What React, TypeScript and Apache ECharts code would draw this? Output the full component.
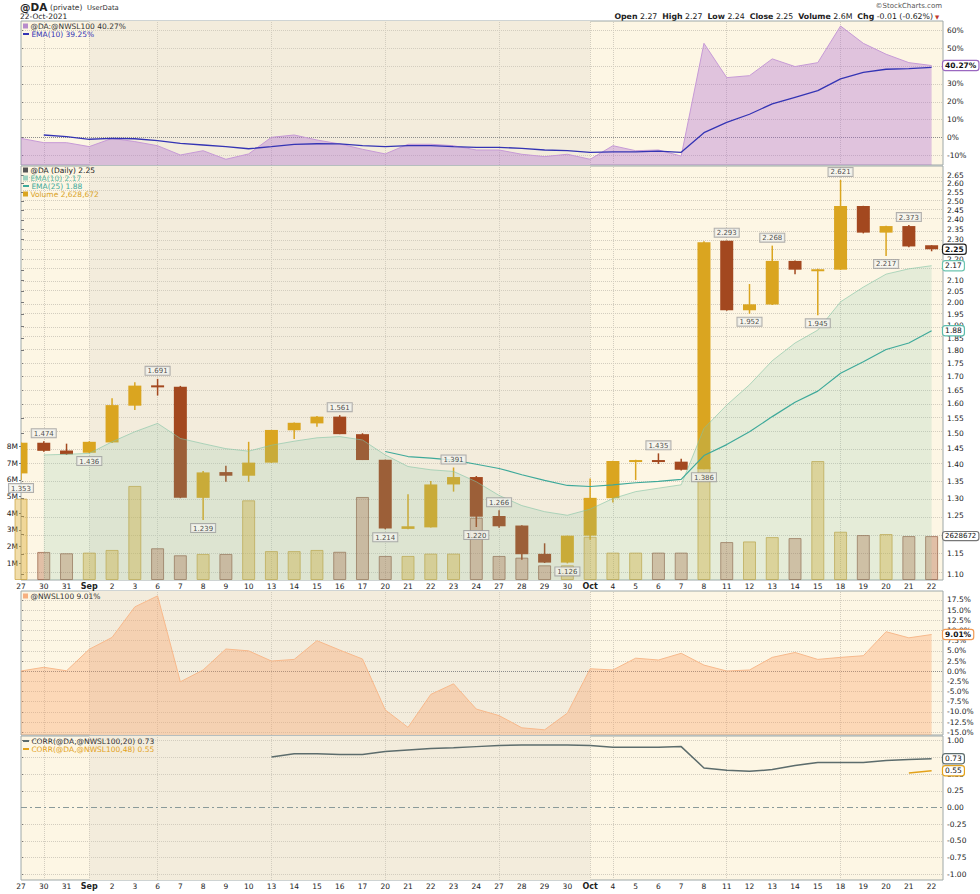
import React, { useEffect, useRef } from 'react';
import * as echarts from 'echarts';

const FONT = 'DejaVu Sans';

// trading days, 27 Aug – 22 Oct 2021
const xLabels = ['27', '30', '31', 'Sep', '2', '3', '6', '7', '8', '9', '10', '13', '14', '15', '16', '17', '20', '21', '22', '23', '24', '27', '28', '29', '30', 'Oct', '4', '5', '6', '7', '8', '11', '12', '13', '14', '15', '18', '19', '20', '21', '22'];

// @DA daily candles
const opens = [1.373, 1.469, 1.444, 1.437, 1.470, 1.594, 1.667, 1.662, 1.301, 1.377, 1.366, 1.406, 1.510, 1.533, 1.556, 1.497, 1.415, 1.215, 1.219, 1.340, 1.362, 1.250, 1.224, 1.150, 1.128, 1.197, 1.300, 1.411, 1.414, 1.409, 1.386, 2.293, 1.967, 1.992, 2.193, 2.151, 2.151, 2.475, 2.334, 2.368, 2.270];
const highs = [1.470, 1.474, 1.466, 1.474, 1.620, 1.678, 1.691, 1.665, 1.380, 1.396, 1.472, 1.511, 1.536, 1.558, 1.561, 1.500, 1.415, 1.311, 1.350, 1.391, 1.365, 1.266, 1.225, 1.177, 1.197, 1.358, 1.412, 1.415, 1.435, 1.418, 2.290, 2.293, 2.084, 2.268, 2.195, 2.155, 2.621, 2.476, 2.370, 2.373, 2.270];
const lows = [1.353, 1.440, 1.430, 1.436, 1.468, 1.579, 1.630, 1.300, 1.239, 1.348, 1.348, 1.405, 1.481, 1.522, 1.497, 1.414, 1.214, 1.214, 1.219, 1.319, 1.220, 1.218, 1.135, 1.127, 1.126, 1.186, 1.288, 1.353, 1.402, 1.382, 1.386, 1.965, 1.952, 1.990, 2.129, 1.945, 2.150, 2.330, 2.217, 2.260, 2.240];
const closes = [1.469, 1.443, 1.432, 1.472, 1.596, 1.666, 1.663, 1.301, 1.376, 1.366, 1.406, 1.511, 1.535, 1.556, 1.497, 1.414, 1.216, 1.222, 1.340, 1.362, 1.248, 1.222, 1.149, 1.128, 1.197, 1.301, 1.411, 1.414, 1.408, 1.384, 2.285, 1.967, 1.993, 2.193, 2.151, 2.153, 2.475, 2.334, 2.368, 2.264, 2.250];
const volumes = [4870000, 1680000, 1600000, 1640000, 1800000, 5630000, 1900000, 1480000, 1560000, 1560000, 4770000, 1730000, 1730000, 1800000, 1690000, 4970000, 1440000, 1440000, 1580000, 1580000, 3730000, 1440000, 1340000, 880000, 880000, 2590000, 1640000, 1640000, 1640000, 1640000, 6800000, 2270000, 2310000, 2570000, 2510000, 7120000, 2890000, 2690000, 2750000, 2630000, 2628672];
const ema10 = [null, 1.430, 1.432, 1.435, 1.472, 1.505, 1.533, 1.483, 1.466, 1.450, 1.442, 1.461, 1.474, 1.485, 1.489, 1.478, 1.430, 1.394, 1.384, 1.379, 1.348, 1.308, 1.279, 1.262, 1.252, 1.269, 1.299, 1.319, 1.329, 1.339, 1.516, 1.596, 1.669, 1.760, 1.830, 1.883, 2.004, 2.070, 2.130, 2.155, 2.170];
const ema25 = [null, null, null, null, null, null, null, null, null, null, null, null, null, null, null, null, 1.441, 1.425, 1.420, 1.414, 1.401, 1.388, 1.369, 1.352, 1.337, 1.334, 1.339, 1.345, 1.349, 1.355, 1.428, 1.463, 1.505, 1.556, 1.606, 1.646, 1.712, 1.756, 1.804, 1.830, 1.880];

// @DA:@NWSL100 ratio, % change
const ratioPct = [-0.5, -2.9, -2.9, -5.1, -0.5, -2.3, -4.6, -9.8, -7.4, -12.2, -9.2, 0.1, 1.4, -1.4, -3.6, -6.6, -9.2, -3.8, -3.8, -4.6, -7.0, -7.0, -9.4, -10.7, -9.4, -12.2, -4.6, -7.4, -7.0, -10.4, 52.7, 33.5, 34.6, 44.0, 39.7, 41.9, 62.4, 52.7, 46.6, 41.9, 40.27];
const ratioEma = [null, 1.4, 0.5, -1.0, -0.5, -0.7, -1.8, -3.3, -4.2, -5.1, -6.3, -5.1, -3.8, -3.5, -3.6, -4.6, -5.1, -4.6, -4.6, -5.1, -5.5, -5.5, -6.1, -7.0, -7.4, -8.3, -8.0, -8.0, -7.6, -8.3, 2.7, 8.5, 13.0, 18.8, 22.5, 26.2, 32.8, 36.5, 38.2, 38.5, 39.25];

// @NWSL100 % change
const nwslPct = [0.05, 0.96, 0.1, 5.4, 8.3, 15.8, 18.5, -2.6, 0.3, 5.45, 5.0, 2.5, 2.9, 7.5, 5.2, 3.0, -9.5, -13.8, -5.7, -3.1, -9.3, -10.9, -13.9, -14.4, -10.3, 0.6, 0.3, 3.2, 2.75, 4.4, 1.5, 0.05, 0.3, 3.4, 4.6, 2.9, 3.4, 3.8, 9.7, 8.2, 9.01];

// correlations
const corr20 = [null, null, null, null, null, null, null, null, null, null, null, 0.754, 0.803, 0.803, 0.793, 0.793, 0.837, 0.862, 0.882, 0.896, 0.911, 0.926, 0.936, 0.936, 0.936, 0.926, 0.902, 0.902, 0.902, 0.911, 0.592, 0.556, 0.541, 0.567, 0.630, 0.675, 0.675, 0.675, 0.704, 0.719, 0.73];
const corr48 = [null, null, null, null, null, null, null, null, null, null, null, null, null, null, null, null, null, null, null, null, null, null, null, null, null, null, null, null, null, null, null, null, null, null, null, null, null, null, null, 0.518, 0.55];

// high / low annotations
const markIdx = [0, 1, 3, 6, 8, 14, 16, 19, 20, 21, 24, 28, 30, 31, 32, 33, 35, 36, 38, 39];
const markSide = ['low', 'high', 'low', 'high', 'low', 'high', 'low', 'high', 'low', 'high', 'low', 'high', 'low', 'high', 'low', 'high', 'low', 'high', 'low', 'high'];

// tick labels (values hidden behind last-value tags are left out of the label lists)
const priceTicks = [1.10, 1.15, 1.20, 1.25, 1.30, 1.35, 1.40, 1.45, 1.50, 1.55, 1.60, 1.65, 1.70, 1.75, 1.80, 1.85, 1.90, 1.95, 2.00, 2.05, 2.10, 2.15, 2.20, 2.25, 2.30, 2.35, 2.40, 2.45, 2.50, 2.55, 2.60, 2.65];
const priceHidden = [1.20, 2.15, 2.25];
const volumeTicks = [1000000, 2000000, 3000000, 4000000, 5000000, 6000000, 7000000, 8000000];
const ratioTicks = [-10, 0, 10, 20, 30, 40, 50, 60];
const ratioHidden = [40];
const nwslTicks = [-15, -12.5, -10, -7.5, -5, -2.5, 0, 2.5, 5, 7.5, 10, 12.5, 15, 17.5];
const corrTicks = [-1, -0.75, -0.5, -0.25, 0, 0.25, 0.5, 0.75, 1];
const corrHidden = [0.75];
const weekStarts = [1, 3, 6, 11, 16, 21, 25, 26, 31, 36];

const UP = '#daa520';
const DOWN = '#a3481f';
const GRIDLINE = '#d3cdbf';
const LABEL = { fontFamily: FONT, fontSize: 7.5, color: '#222' };

const pairs = (arr: (number | null)[], f = (v: number) => v) =>
  arr.map((v, i) => (v == null ? null : [i, f(v)])).filter((d) => d !== null);

const tag = (coord: number[], text: string, border: string, bold = true, size = 7.5) => ({
  silent: true,
  z: 10,
  symbol: 'rect',
  symbolSize: 1,
  itemStyle: { color: 'rgba(0,0,0,0)' },
  label: {
    show: true, position: 'right', distance: 11, formatter: text,
    fontFamily: FONT, fontSize: size, fontWeight: bold ? 'bold' : 'normal', color: '#111',
    backgroundColor: '#ffffff', borderColor: border, borderWidth: 1.2, borderRadius: 2, padding: [1, 2, 0, 2],
  },
  data: [{ coord }],
});

const backdrop = (gi: number, yi: number, hTicks: number[], zero?: any) => [
  {
    type: 'line', xAxisIndex: gi, yAxisIndex: yi, data: [], z: 1, silent: true,
    markArea: { silent: true, z: 1, itemStyle: { color: '#f3ecdc' }, data: [[{ xAxis: 3 }, { xAxis: 25 }]] },
  },
  {
    type: 'line', xAxisIndex: gi, yAxisIndex: yi, data: [], z: 2, silent: true,
    markLine: {
      silent: true, z: 2, symbol: ['none', 'none'], label: { show: false },
      lineStyle: { color: GRIDLINE, type: 'dotted', width: 1 },
      data: [
        ...weekStarts.map((v) => ({ xAxis: v })),
        ...hTicks.map((v) => ({ yAxis: v })),
        ...(zero ? [zero] : []),
      ],
    },
  },
];

const legendText = (x: number, y: number, text: string, color: string, icon: string, iconW = 5, iconH = 5) => ({
  type: 'text', x, y, z: 100, silent: true,
  style: {
    text: `{i|}${text}`, fill: color, fontFamily: FONT, fontSize: 7.5,
    verticalAlign: 'middle', textVerticalAlign: 'middle',
    rich: { i: { width: iconW, height: iconH, backgroundColor: icon, padding: 0 } },
  },
});

export default function App() {
  const ref = useRef<HTMLDivElement>(null);

  useEffect(() => {
    if (!ref.current) return;
    const chart = echarts.init(ref.current, undefined, { renderer: 'svg' });

    const grids = [
      { left: 21, top: 21, width: 922, height: 144 },
      { left: 21, top: 166, width: 922, height: 414 },
      { left: 21, top: 591, width: 922, height: 144 },
      { left: 21, top: 736, width: 922, height: 144 },
    ].map((g) => ({ ...g, show: true, backgroundColor: '#fdf6e4', borderColor: '#9ea8a8', borderWidth: 1 }));

    const allIdx = xLabels.map((_, i) => i);
    const xAxis = [0, 1, 2, 3].map((gi) => ({
      type: 'value', gridIndex: gi, min: 0, max: 40.5,
      axisLine: { show: false },
      splitLine: { show: false },
      axisTick: { show: false },
      axisLabel: {
        show: gi === 1 || gi === 3, customValues: allIdx, margin: 2, ...LABEL,
        formatter: (v: number) => {
          const s = xLabels[Math.round(v)];
          return s === 'Sep' || s === 'Oct' ? `{b|${s}}` : s;
        },
        rich: { b: { fontFamily: FONT, fontSize: 8, fontWeight: 'bold', color: '#222' } },
      },
    }));

    const rightAxis = (gi: number, min: number, max: number, ticks: number[], labels: number[], fmt: (v: number) => string) => ({
      type: 'value', gridIndex: gi, position: 'right', min, max,
      axisLine: { show: false },
      splitLine: { show: false },
      axisTick: { show: true, customValues: ticks, length: 3, lineStyle: { color: '#777' } },
      axisLabel: { customValues: labels, margin: 4, formatter: fmt, ...LABEL },
    });

    const lnTicks = priceTicks.map(Math.log);
    const lnLabels = priceTicks.filter((p) => !priceHidden.includes(p)).map(Math.log);
    const yAxis = [
      rightAxis(0, -15.4, 65.2, ratioTicks, ratioTicks.filter((t) => !ratioHidden.includes(t)), (v) => `${Math.round(v)}%`),
      rightAxis(1, 0.0821, 0.9944, lnTicks, lnLabels, (v) => Math.exp(v).toFixed(2)),
      {
        type: 'value', gridIndex: 1, position: 'left', min: 0, max: 24780000,
        axisLine: { show: false },
        splitLine: { show: false },
        axisTick: { show: true, customValues: volumeTicks, length: 2, lineStyle: { color: '#777' } },
        axisLabel: { customValues: volumeTicks, margin: 3, formatter: (v: number) => `${Math.round(v / 1e6)}M`, ...LABEL },
      },
      rightAxis(2, -15.67, 19.7, nwslTicks, nwslTicks, (v) => `${v.toFixed(1)}%`),
      rightAxis(3, -1.085, 1.07, corrTicks, corrTicks.filter((t) => !corrHidden.includes(t)), (v) => v.toFixed(2)),
    ];

    const candleData = opens.map((o, i) => [i, Math.log(o), Math.log(closes[i]), Math.log(lows[i]), Math.log(highs[i])]);

    const series: any[] = [
      // ---- ratio panel ----
      ...backdrop(0, 0, ratioTicks.filter((t) => t !== 0), { yAxis: 0, lineStyle: { color: '#8c8c8c', type: 'dotted' } }),
      {
        type: 'line', xAxisIndex: 0, yAxisIndex: 0, z: 3, silent: true, symbol: 'none',
        data: pairs(ratioPct),
        lineStyle: { color: '#c69ad6', width: 1 },
        areaStyle: { color: 'rgba(172,108,208,0.52)', origin: 'start' },
        markPoint: tag([40, ratioPct[40]], '40.27%', '#9a68c0'),
      },
      {
        type: 'line', xAxisIndex: 0, yAxisIndex: 0, z: 4, silent: true, symbol: 'none',
        data: pairs(ratioEma),
        lineStyle: { color: '#3434b4', width: 1.3 },
      },

      // ---- price panel ----
      ...backdrop(1, 1, lnTicks),
      {
        type: 'bar', xAxisIndex: 1, yAxisIndex: 2, z: 3, silent: true, barWidth: 13, clip: true,
        data: volumes.map((v, i) => ({
          value: [i, v],
          itemStyle: closes[i] >= opens[i]
            ? { color: 'rgba(218,165,32,0.38)', borderColor: 'rgba(200,160,60,0.7)', borderWidth: 1 }
            : { color: 'rgba(170,80,40,0.33)', borderColor: 'rgba(150,95,70,0.7)', borderWidth: 1 },
        })),
        markPoint: tag([40, volumes[40]], '2628672', '#777777', false, 7),
      },
      {
        type: 'custom', xAxisIndex: 1, yAxisIndex: 1, z: 4, silent: true, clip: true,
        data: candleData,
        encode: { x: 0, y: [1, 2, 3, 4] },
        renderItem: (params: any, api: any) => {
          const i = api.value(0);
          const o = api.value(1), c = api.value(2), l = api.value(3), h = api.value(4);
          const pO = api.coord([i, o]);
          const pC = api.coord([i, c]);
          const pL = api.coord([i, l]);
          const pH = api.coord([i, h]);
          const color = c >= o ? UP : DOWN;
          const top = Math.min(pO[1], pC[1]);
          const hgt = Math.max(Math.abs(pO[1] - pC[1]), 2);
          const left = Math.max(pO[0] - 6.5, params.coordSys.x);
          const right = pO[0] + 6.5;
          return {
            type: 'group',
            children: [
              { type: 'line', shape: { x1: pH[0], y1: pH[1], x2: pL[0], y2: pL[1] }, style: { stroke: color, lineWidth: 1.5 } },
              { type: 'rect', shape: { x: left, y: top, width: right - left, height: hgt }, style: { fill: color } },
            ],
          };
        },
      },
      {
        type: 'line', xAxisIndex: 1, yAxisIndex: 1, z: 5, silent: true, symbol: 'none',
        data: pairs(ema10, Math.log),
        lineStyle: { color: 'rgba(130,195,165,0.6)', width: 1 },
        areaStyle: { color: 'rgba(130,195,165,0.27)', origin: 'start' },
        markPoint: tag([40, Math.log(ema10[40] as number)], '2.17', '#6cc4b0', false),
      },
      {
        type: 'line', xAxisIndex: 1, yAxisIndex: 1, z: 6, silent: true, symbol: 'none',
        data: pairs(ema25, Math.log),
        lineStyle: { color: '#3ea99a', width: 1.2 },
        markPoint: tag([40, Math.log(ema25[40] as number)], '1.88', '#5cbcac', false),
      },
      {
        type: 'scatter', xAxisIndex: 1, yAxisIndex: 1, z: 7, silent: true, symbolSize: 0,
        data: markIdx.map((i, k) => {
          const high = markSide[k] === 'high';
          const v = high ? highs[i] : lows[i];
          return { value: [i, Math.log(v)], label: { position: high ? 'top' : 'bottom', formatter: v.toFixed(3) } };
        }),
        label: {
          show: true, distance: 4, fontFamily: FONT, fontSize: 7, color: '#222',
          backgroundColor: '#f5f5ef', borderColor: '#9c9c9c', borderWidth: 1, padding: [1, 2, 0, 2],
        },
        markPoint: tag([40, Math.log(closes[40])], '2.25', '#222222'),
      },

      // ---- NWSL100 panel ----
      ...backdrop(2, 3, nwslTicks.filter((t) => t !== 0), { yAxis: 0, lineStyle: { color: '#8c8c8c', type: 'dotted' } }),
      {
        type: 'line', xAxisIndex: 2, yAxisIndex: 3, z: 3, silent: true, symbol: 'none',
        data: pairs(nwslPct),
        lineStyle: { color: '#f7b98c', width: 1 },
        areaStyle: { color: 'rgba(250,160,100,0.5)', origin: 'start' },
        markPoint: tag([40, nwslPct[40]], '9.01%', '#f09a55'),
      },

      // ---- correlation panel ----
      ...backdrop(3, 4, corrTicks.filter((t) => t !== 0), { yAxis: 0, lineStyle: { color: '#8a9a9a', type: [6, 3, 2, 3] } }),
      {
        type: 'line', xAxisIndex: 3, yAxisIndex: 4, z: 3, silent: true, symbol: 'none',
        data: pairs(corr20),
        lineStyle: { color: '#5c6c6c', width: 1.5 },
        markPoint: tag([40, corr20[40] as number], '0.73', '#5c6c6c', false),
      },
      {
        type: 'line', xAxisIndex: 3, yAxisIndex: 4, z: 4, silent: true, symbol: 'none',
        data: pairs(corr48),
        lineStyle: { color: '#e3a21a', width: 1.5 },
        markPoint: tag([40, corr48[40] as number], '0.55', '#e3a21a', false),
      },
    ];

    const graphic: any[] = [
      { type: 'text', x: 20, y: 1, z: 100, silent: true, style: { text: '@DA', fontFamily: FONT, fontSize: 10.5, fontWeight: 'bold', fill: '#222' } },
      { type: 'text', x: 50, y: 3, z: 100, silent: true, style: { text: '(private)', fontFamily: FONT, fontSize: 7.5, fill: '#333' } },
      { type: 'text', x: 87, y: 4, z: 100, silent: true, style: { text: 'UserData', fontFamily: FONT, fontSize: 6.8, fill: '#333' } },
      { type: 'text', x: 20, y: 12, z: 100, silent: true, style: { text: '22-Oct-2021', fontFamily: FONT, fontSize: 7.5, fill: '#222' } },
      { type: 'text', x: 942, y: 2, z: 100, silent: true, style: { text: '©StockCharts.com', fontFamily: FONT, fontSize: 7, fill: '#555', align: 'right', textAlign: 'right' } },
      {
        type: 'text', x: 933, y: 12, z: 100, silent: true,
        style: {
          text: '{b|Open} 2.27  {b|High} 2.27  {b|Low} 2.24  {b|Close} 2.25  {b|Volume} 2.6M  {b|Chg} -0.01 (-0.62%)',
          fontFamily: FONT, fontSize: 7.8, fill: '#222', align: 'right', textAlign: 'right',
          rich: { b: { fontFamily: FONT, fontSize: 7.8, fontWeight: 'bold', fill: '#222' } },
        },
      },
      { type: 'text', x: 935, y: 14, z: 100, silent: true, style: { text: '▼', fontFamily: FONT, fontSize: 5.5, fill: '#c0392b' } },

      legendText(23, 26, ' @DA:@NWSL100 40.27%', '#333', '#b88ccc'),
      legendText(23, 34, ' EMA(10) 39.25%', '#3434b4', '#3434b4', 6, 2),
      legendText(23, 170, ' @DA (Daily) 2.25', '#222', '#555'),
      legendText(23, 178, ' EMA(10) 2.17', '#5cb9a2', '#9fd3c0'),
      legendText(23, 186, ' EMA(25) 1.88', '#3ea99a', '#3ea99a', 6, 2),
      legendText(23, 194, ' Volume 2,628,672', '#d9a21e', '#daa520'),
      legendText(23, 596, ' @NWSL100 9.01%', '#333', '#f7b080'),
      legendText(23, 741, ' CORR(@DA,@NWSL100,20) 0.73', '#333', '#5c6c6c', 6, 2),
      legendText(23, 749, ' CORR(@DA,@NWSL100,48) 0.55', '#e3a21a', '#e3a21a', 6, 2),
    ];

    chart.setOption({
      animation: false,
      backgroundColor: '#ffffff',
      textStyle: { fontFamily: FONT },
      grid: grids,
      xAxis,
      yAxis,
      series,
      graphic,
    });

    return () => chart.dispose();
  }, []);

  return <div ref={ref} style={{ position: 'absolute', left: 0, top: 0, width: 980, height: 894, background: '#fff' }} />;
}
